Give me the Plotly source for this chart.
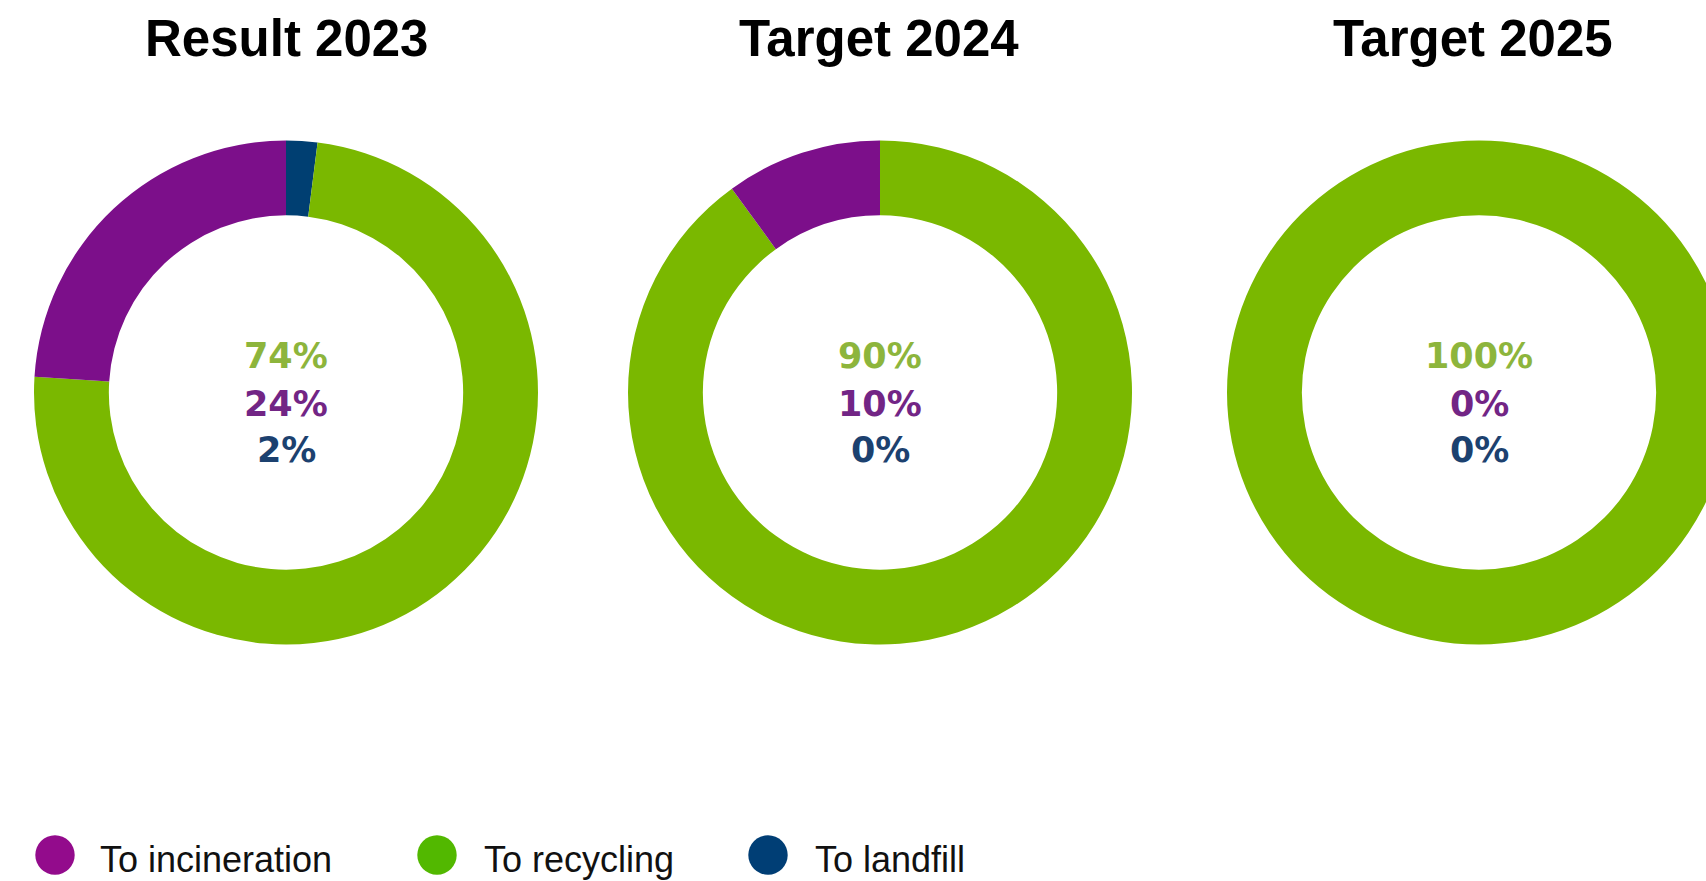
import plotly.graph_objects as go

# ---- data ----
panels = ["Result 2023", "Target 2024", "Target 2025"]
categories = ["To landfill", "To recycling", "To incineration"]
landfill = [2, 0, 0]
recycling = [74, 90, 100]
incineration = [24, 10, 0]
legend_order = ["To incineration", "To recycling", "To landfill"]
label_order = ["To recycling", "To incineration", "To landfill"]

# ---- styles ----
slice_colors = {"To landfill": "#003f72", "To recycling": "#7ab800", "To incineration": "#7c0f8a"}
legend_colors = {"To landfill": "#003e75", "To recycling": "#52b800", "To incineration": "#930b8c"}
label_colors = {"To landfill": "#1c416f", "To recycling": "#8db53c", "To incineration": "#722585"}

W, H = 1760, 881
R = 252
centers_x = [286, 880, 1479]
center_y = 392.5
title_x = [287, 879, 1473]

series = {"To landfill": landfill, "To recycling": recycling, "To incineration": incineration}

fig = go.Figure()
annotations = []
shapes = []

def py(ypx):
    return 1 - ypx / H

for i, name in enumerate(panels):
    vals = [series[c][i] for c in categories]
    cx = centers_x[i]
    fig.add_trace(go.Pie(
        labels=categories,
        values=vals,
        hole=0.703,
        sort=False,
        direction="clockwise",
        rotation=0,
        textinfo="none",
        hoverinfo="label+percent",
        marker=dict(colors=[slice_colors[c] for c in categories], line=dict(width=0)),
        domain=dict(x=[(cx - R) / W, (cx + R) / W], y=[py(center_y + R), py(center_y - R)]),
        showlegend=False,
        name=name,
    ))
    annotations.append(dict(
        text=name, x=title_x[i] / W, y=py(39), xref="paper", yref="paper",
        xanchor="center", yanchor="middle", showarrow=False,
        font=dict(family="Liberation Sans", size=51, color="#000000", weight="bold"),
    ))
    for j, (c, ly) in enumerate(zip(label_order, [356, 403.5, 450])):
        annotations.append(dict(
            text=f"{series[c][i]}%", x=cx / W, y=py(ly), xref="paper", yref="paper",
            xanchor="center", yanchor="middle", showarrow=False,
            font=dict(family="DejaVu Sans", size=35, color=label_colors[c], weight="bold"),
        ))

# custom legend with large round markers
legend_circle_x = [55, 437, 768]
legend_text_x = [98, 482, 813]
legend_y = 855
legend_text_y = 859
for c, lx, tx in zip(legend_order, legend_circle_x, legend_text_x):
    r = 19.7
    shapes.append(dict(
        type="circle", xref="paper", yref="paper",
        x0=(lx - r) / W, x1=(lx + r) / W, y0=py(legend_y + r), y1=py(legend_y - r),
        fillcolor=legend_colors[c], line=dict(width=0),
    ))
    annotations.append(dict(
        text=c, x=tx / W, y=py(legend_text_y), xref="paper", yref="paper",
        xanchor="left", yanchor="middle", showarrow=False,
        font=dict(family="Liberation Sans", size=36, color="#111111"),
    ))

fig.update_layout(
    width=W, height=H,
    margin=dict(l=0, r=0, t=0, b=0),
    paper_bgcolor="white", plot_bgcolor="white",
    annotations=annotations, shapes=shapes,
    showlegend=False,
)

fig.write_html(
    "out.html",
    post_script="document.body.style.margin='0';document.body.style.overflow='hidden';",
)
